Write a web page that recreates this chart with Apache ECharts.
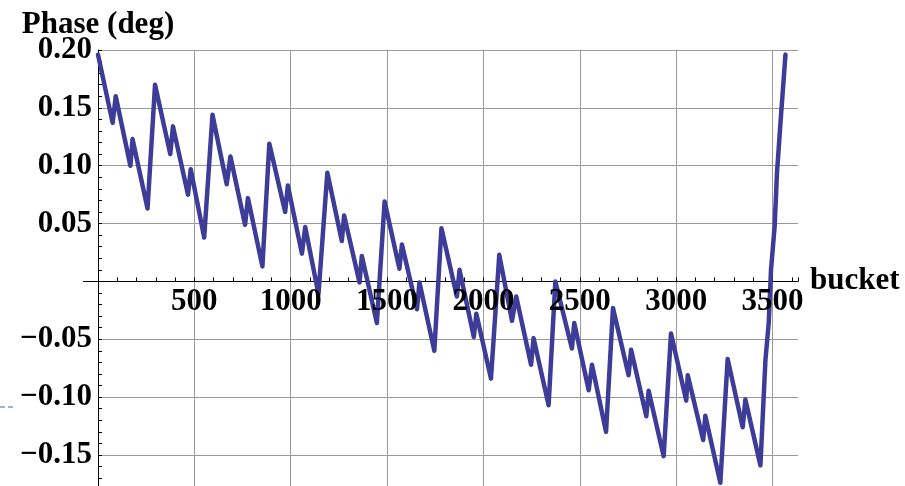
<!DOCTYPE html>
<html><head><meta charset="utf-8">
<script src="https://cdn.jsdelivr.net/npm/echarts@6/dist/echarts.min.js"></script>
<style>html,body{margin:0;padding:0;background:#fff}#c{width:905px;height:486px}</style>
</head><body><div id="c"></div>
<script>
// bucket index of each vertex of the phase trace
const buckets = [
  0, 76, 92, 168, 179, 257,
  296, 375, 389, 467, 481, 551,
  594, 668, 687, 763, 778, 853,
  889, 971, 985, 1058, 1075, 1144,
  1190, 1265, 1277, 1357, 1369, 1447,
  1487, 1564, 1577, 1655, 1668, 1745,
  1782, 1862, 1876, 1950, 1963, 2039,
  2082, 2148, 2170, 2247, 2260, 2338,
  2373, 2459, 2471, 2546, 2563, 2636,
  2672, 2753, 2766, 2845, 2857, 2935,
  2973, 3052, 3060, 3140, 3151, 3229,
  3267, 3345, 3359, 3437,
  3463, 3480, 3492, 3511, 3523, 3544, 3567
];
// phase (deg) at each vertex
const phase = [
  0.196, 0.137, 0.160, 0.100, 0.123, 0.063,
  0.170, 0.110, 0.134, 0.075, 0.097, 0.038,
  0.144, 0.084, 0.108, 0.049, 0.072, 0.013,
  0.119, 0.060, 0.083, 0.024, 0.047, -0.011,
  0.094, 0.035, 0.057, -0.001, 0.022, -0.036,
  0.069, 0.011, 0.032, -0.024, -0.001, -0.060,
  0.046, -0.013, 0.010, -0.048, -0.028, -0.084,
  0.023, -0.034, -0.013, -0.072, -0.049, -0.107,
  0.000, -0.058, -0.036, -0.094, -0.072, -0.130,
  -0.023, -0.081, -0.059, -0.1165, -0.0945, -0.151,
  -0.045, -0.103, -0.081, -0.137, -0.116, -0.174,
  -0.067, -0.126, -0.102, -0.159,
  -0.068, -0.036, 0.010, 0.048, 0.094, 0.144, 0.196
];
const xTickLabels = [500, 1000, 1500, 2000, 2500, 3000, 3500];
const yTickLabels = [0.20, 0.15, 0.10, 0.05, -0.05, -0.10, -0.15];

const X_MIN = 0, X_MAX = 3632, Y_MIN = -0.2, Y_MAX = 0.2;
const labelFont = {fontFamily: 'Liberation Serif', fontWeight: 'bold', fontSize: 31, color: '#000'};
const gridColor = '#9a9a9a';

function fmtX(v) { return xTickLabels.some(t => Math.abs(t - v) < 1e-6) ? String(Math.round(v)) : ''; }
function fmtY(v) {
  const hit = yTickLabels.find(t => Math.abs(t - v) < 1e-6);
  if (hit === undefined) return '';
  return (hit < 0 ? '\u2212' : '') + Math.abs(hit).toFixed(2);
}

const PX_PER_UNIT_Y = 405 / 0.35;
const gridMain = {left: 98, width: 700, top: 50, height: (Y_MAX - Y_MIN) * PX_PER_UNIT_Y, containLabel: false, outerBoundsMode: 'none'};
const gridUpper = {left: 98, width: 700, top: 50, height: Y_MAX * PX_PER_UNIT_Y, containLabel: false, outerBoundsMode: 'none'};

const baseX = {type: 'value', min: X_MIN, max: X_MAX, position: 'bottom'};
const baseY = {type: 'value', min: Y_MIN, max: Y_MAX, position: 'left'};

const chart = echarts.init(document.getElementById('c'), null, {renderer: 'canvas'});
chart.setOption({
  animation: false,
  backgroundColor: '#fff',
  grid: [gridMain, gridUpper],
  xAxis: [
    Object.assign({}, baseX, {gridIndex: 0, interval: 100,
      axisLine: {show: true, onZero: true, onZeroAxisIndex: 0, lineStyle: {color: '#000', width: 1}},
      axisTick: {show: true, inside: true, length: 4, lineStyle: {color: '#000', width: 1}},
      axisLabel: {show: false}, splitLine: {show: false}}),
    Object.assign({}, baseX, {gridIndex: 0, interval: 500,
      axisLine: {show: false, onZero: true, onZeroAxisIndex: 0}, axisTick: {show: false}, axisLabel: {show: false},
      splitLine: {show: true, showMinLine: false, showMaxLine: false, lineStyle: {color: gridColor, width: 1}}}),
    Object.assign({}, baseX, {gridIndex: 1, interval: 100, z: 10,
      axisLine: {show: false, onZero: false}, axisTick: {show: false}, splitLine: {show: false},
      axisLabel: Object.assign({show: true, margin: 5, formatter: fmtX, hideOverlap: false}, labelFont),
      name: 'bucket', nameLocation: 'end', nameGap: 12, nameTextStyle: labelFont, nameMoveOverlap: false})
  ],
  yAxis: [
    Object.assign({}, baseY, {gridIndex: 0, interval: 0.01,
      axisLine: {show: true, onZero: true, onZeroAxisIndex: 0, lineStyle: {color: '#000', width: 1}},
      axisTick: {show: true, inside: true, length: 4, lineStyle: {color: '#000', width: 1}},
      axisLabel: {show: false}, splitLine: {show: false}}),
    Object.assign({}, baseY, {gridIndex: 0, interval: 0.05,
      axisLine: {show: false, onZero: true, onZeroAxisIndex: 0}, axisTick: {show: false}, axisLabel: {show: false},
      splitLine: {show: true, showMinLine: false, showMaxLine: true, lineStyle: {color: gridColor, width: 1}}}),
    Object.assign({}, baseY, {gridIndex: 0, interval: 0.05, z: 10,
      axisLine: {show: false, onZero: true, onZeroAxisIndex: 0}, axisTick: {show: false}, splitLine: {show: false},
      axisLabel: Object.assign({show: true, margin: 6, formatter: fmtY, showMinLabel: false, showMaxLabel: true}, labelFont),
      name: 'Phase (deg)', nameLocation: 'end', nameGap: 10, nameTextStyle: labelFont, nameMoveOverlap: false}),
    {type: 'value', gridIndex: 1, min: 0, max: Y_MAX, show: false}
  ],
  series: [{
    type: 'line', xAxisIndex: 0, yAxisIndex: 0, z: 5,
    data: buckets.map((b, i) => [b, phase[i]]),
    showSymbol: false, clip: true,
    lineStyle: {color: '#3d3d99', width: 4.5, join: 'round', cap: 'round'}
  }]
});

// short extension of the horizontal axis to the left of the vertical axis
const p = chart.convertToPixel({xAxisIndex: 0, yAxisIndex: 0}, [0, 0]);
const yLine = Math.round(p[1] - 0.5) + 0.5;
chart.setOption({
  graphic: [
    {type: 'line', z: 6, shape: {x1: p[0] - 15, y1: yLine, x2: p[0], y2: yLine}, style: {stroke: '#000', lineWidth: 1}},
    {type: 'line', z: 6, shape: {x1: 0, y1: 407, x2: 13, y2: 407}, style: {stroke: '#9db4d0', lineWidth: 2, lineDash: [5, 3]}}
  ]
});
</script>
</body></html>
